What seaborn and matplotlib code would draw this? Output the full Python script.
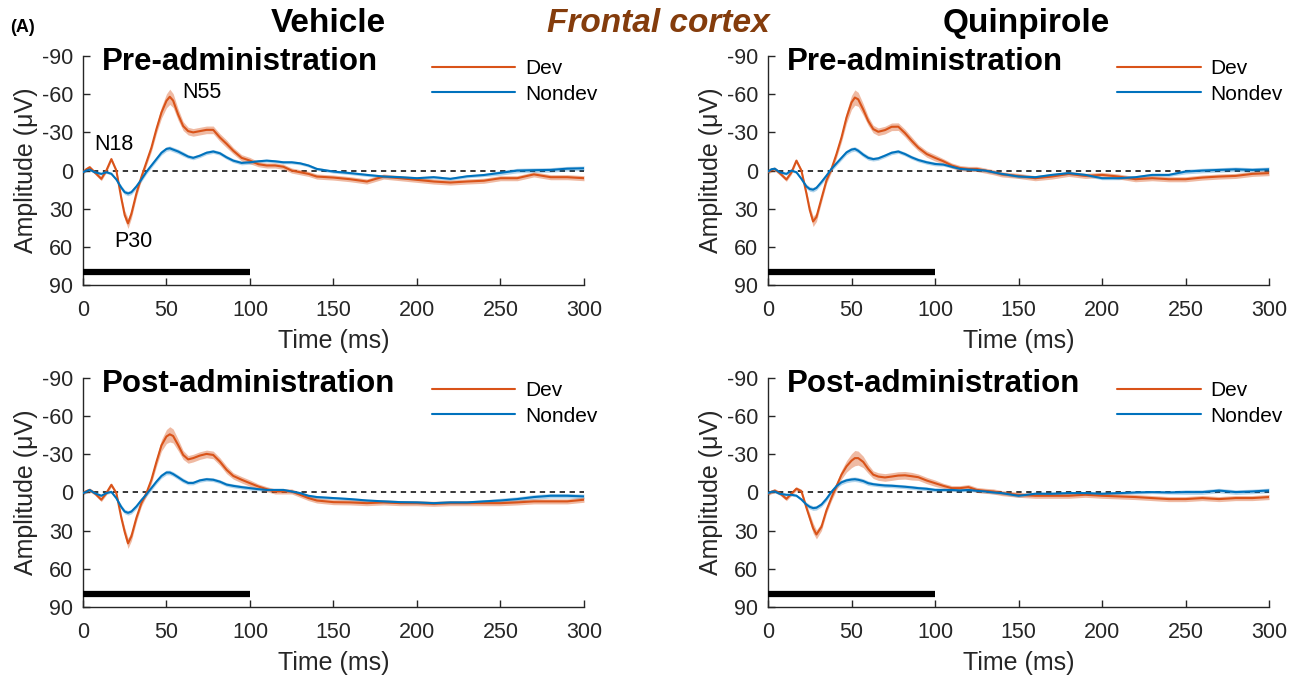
import matplotlib
matplotlib.use("Agg")
import matplotlib.pyplot as plt
import seaborn as sns
import pandas as pd

# time points (ms)
time_ms = [0, 2, 4, 7, 11, 14, 17, 20, 23, 25, 27, 29, 32, 35, 38, 41, 44, 47, 50, 52,
           54, 57, 60, 63, 66, 70, 74, 78, 82, 86, 90, 95, 100, 105, 110, 115, 120, 125, 130, 135,
           140, 150, 160, 170, 180, 190, 200, 210, 220, 230, 240, 250, 260, 270, 280, 290, 300]

# amplitudes (uV)
veh_pre_dev = [1.3, -1, -2.6, 1.3, 6.5, 0, -9, 0, 22, 35, 41.5, 34, 18, 5, -6.5, -18, -32.6, -45.6, -54.8, -58,
               -55, -44, -35, -31, -30, -31, -32, -32, -26, -21, -15.6, -10, -7.8, -5, -4, -4, -3, 0, 1.3, 2.6,
               4.7, 5.5, 6.8, 8.6, 4.7, 6, 7.3, 8.6, 9.4, 8.6, 8, 6, 6, 3, 5.2, 5.2, 6]
veh_pre_nondev = [1.3, 0, -0.8, 1.3, 2.6, 1.3, 2.5, 7, 13.5, 17, 18, 17, 12.5, 7, 1, -4, -9, -14, -17, -17.5,
                  -16.5, -15, -13, -11, -10, -11.7, -14, -15, -13.6, -10.4, -7.8, -6, -6.5, -7.3, -7.8, -7.3, -6.5, -6.5, -5.7, -4,
                  -1.3, 0.8, 2, 3.4, 4.7, 5.2, 6, 5.2, 6.5, 4.5, 3.5, 1.8, 0, -0.3, -0.5, -1.5, -1.8]
quin_pre_dev = [1.3, -0.5, -1.3, 2, 7, 1.5, -7.8, 0, 18, 31, 40, 36.5, 22, 7.8, -1.3, -13, -26, -41.7, -53.5, -57.4,
                -56, -48, -39, -32.6, -30.5, -31.8, -34.4, -34.5, -29.5, -23.5, -18, -13, -10, -7.3, -4, -2, -1.3, -1.3, 0, 1.3,
                3, 4.2, 6, 4.7, 2.6, 4.2, 3.4, 4.7, 6.8, 6, 6.8, 6.8, 5.5, 4.7, 4.2, 2.6, 2]
quin_pre_nondev = [0.8, -1, -1.5, 1.3, 2.6, 0, 1.3, 6.5, 12.5, 14.5, 15, 13.6, 9, 4, -1.3, -5.7, -10, -14.3, -16.5, -17,
                   -15.6, -12.5, -10, -9, -9.6, -11.7, -14, -15, -13, -10.4, -8.3, -6.5, -5.2, -4.7, -3, -1.3, -0.8, -0.5, 0, 1.3,
                   2.6, 4.7, 5.2, 3.4, 2, 3.4, 6, 6, 5.2, 3.4, 3.4, 0.8, 0, -0.5, -1, -0.5, -1]
veh_post_dev = [0.5, -1, -2, 0.5, 5.7, 0.5, -6, 0.5, 20, 31, 40, 34.5, 20, 8.4, 0.5, -10, -24, -37, -44, -45.7,
                -44.4, -37.3, -29.5, -26, -27, -29, -30.3, -29.5, -24.3, -17.8, -13, -10, -7.3, -4.7, -2.6, -0.8, -0.8, -0.8, 1.8, 4.4,
                6.3, 7.6, 7.8, 8.4, 7.8, 8.4, 8.4, 8.9, 8.4, 8.4, 8.4, 8.4, 7.8, 7, 7, 7, 5.7]
veh_post_nondev = [0.5, -0.5, -2, 0.5, 2.6, 0.5, -0.5, 4.5, 11.5, 15, 16, 15, 11, 6, 1.5, -3.5, -8.5, -13, -15.7, -15.7,
                   -14.5, -12, -9.4, -7.5, -7.5, -9.5, -10.4, -10, -8.5, -6.2, -5.2, -4.2, -3.4, -2.6, -2, -2, -2, -0.8, 0.5, 2.6,
                   3.6, 4.4, 5.2, 6.3, 7, 7.6, 7.8, 8.4, 7.8, 7.8, 7, 6.3, 5.2, 3.6, 2.6, 2.6, 3.1]
quin_post_dev = [1, -0.5, -1.5, 0.5, 5, 1, -3, -1, 12, 20, 28, 33, 27, 14, 4, -5, -14, -20.5, -25, -27,
                 -27, -24, -18.5, -14, -12.5, -11.8, -12.5, -13.3, -13.5, -12.8, -12, -9.4, -7.3, -5.2, -3.4, -3.4, -4.2, -2, -1.3, -0.8,
                 0.5, 1.8, 2.6, 2.6, 2.6, 1.8, 2.6, 3.1, 3.6, 4.4, 5.2, 5.2, 4.4, 5.2, 4.4, 4.4, 3.6]
quin_post_nondev = [0.5, -0.5, -0.8, 1, 1.8, 1.8, 2.5, 5.5, 9.5, 11.3, 12.3, 12, 9.5, 5, -0.5, -5, -8, -9.5, -10.2, -10.4,
                    -10, -9, -7.3, -6.5, -6, -5.5, -5.3, -4.9, -4.5, -4, -3.4, -2.9, -2, -2, -2, -1.6, -2, -1.3, -0.8, 0,
                    0.5, 2.6, 1, 1, 0.5, 0.5, 1, 0.5, 0, -0.3, 0, -0.3, -0.3, -1.5, -0.3, -0.8, -1.6]

# SEM half-widths of the shaded bands
dev_sem = [1.5, 1.5, 1.5, 1.5, 1.5, 1.5, 1.5, 1.5, 2.5, 3.5, 4, 3.5, 3, 2.5, 2.5, 3, 3.5, 4.5, 5.5, 6,
           5.5, 4.5, 3.5, 3, 3, 3, 3, 3, 3, 3, 2.5, 2.5, 2.5, 2, 2, 2, 2, 2, 2, 2,
           2, 2, 2, 2, 2, 2, 2, 2, 2, 2, 2, 2, 2, 2, 2, 2, 2]
nondev_sem = [1, 1, 1, 1, 1, 1, 1, 1, 1.8, 1.8, 1.8, 1.8, 1.8, 1.8, 1.8, 1.8, 1.8, 1.8, 1.8, 1.8,
              1.8, 1.8, 1.8, 1.5, 1.5, 1.5, 1.5, 1.5, 1.5, 1.5, 1.5, 1.5, 1.5, 1.2, 1.2, 1.2, 1.2, 1.2, 1.2, 1.2,
              1.2, 1.2, 1.2, 1.2, 1.2, 1.2, 1.2, 1.2, 1.2, 1.2, 1.2, 1.8, 1.8, 1.8, 1.8, 1.8, 1.8]

panels = [
    ("Pre-administration", veh_pre_dev, veh_pre_nondev),
    ("Pre-administration", quin_pre_dev, quin_pre_nondev),
    ("Post-administration", veh_post_dev, veh_post_nondev),
    ("Post-administration", quin_post_dev, quin_post_nondev),
]

DEV_C = "#D95319"
NONDEV_C = "#0072BD"
AX_C = "#262626"

sns.set_theme(style="ticks")
plt.rcParams["font.family"] = ["Liberation Sans", "DejaVu Sans"]
plt.rcParams["axes.unicode_minus"] = False

fig = plt.figure(figsize=(12.96, 6.82), dpi=100)
lefts = [0.064, 0.5926, 0.064, 0.5926]
bottoms = [0.582, 0.582, 0.110, 0.110]
W, H = 0.3866, 0.3358

for i, (sub, dev, nondev) in enumerate(panels):
    ax = fig.add_axes([lefts[i], bottoms[i], W, H])
    df = pd.DataFrame({
        "time": time_ms * 2,
        "amp": dev + nondev,
        "stim": ["Dev"] * len(time_ms) + ["Nondev"] * len(time_ms),
    })
    ax.axhline(0, color="black", lw=1.1, ls=(0, (3.5, 3)), zorder=1)
    ax.fill_between(time_ms, [v - s for v, s in zip(nondev, nondev_sem)],
                    [v + s for v, s in zip(nondev, nondev_sem)], color=NONDEV_C, alpha=0.3, lw=0, zorder=2)
    ax.fill_between(time_ms, [v - s for v, s in zip(dev, dev_sem)],
                    [v + s for v, s in zip(dev, dev_sem)], color=DEV_C, alpha=0.4, lw=0, zorder=2)
    sns.lineplot(data=df, x="time", y="amp", hue="stim", hue_order=["Dev", "Nondev"],
                 palette={"Dev": DEV_C, "Nondev": NONDEV_C}, errorbar=None, lw=1.5, ax=ax, zorder=3)
    ax.plot([0, 100], [80, 80], color="black", lw=4.5, solid_capstyle="butt", zorder=4)

    ax.set_xlim(0, 300)
    ax.set_ylim(90, -90)
    ax.set_xticks([0, 50, 100, 150, 200, 250, 300])
    ax.set_yticks([-90, -60, -30, 0, 30, 60, 90])
    ax.set_xlabel("Time (ms)", fontsize=18, color=AX_C, labelpad=6)
    ax.set_ylabel("Amplitude (μV)", fontsize=18, color=AX_C, labelpad=3)
    ax.tick_params(direction="in", length=5, width=1, colors=AX_C, labelsize=15.5)
    ax.tick_params(axis="x", pad=10.5)
    ax.tick_params(axis="y", pad=7)
    for s in ["top", "right"]:
        ax.spines[s].set_visible(False)
    for s in ["left", "bottom"]:
        ax.spines[s].set_color(AX_C)
        ax.spines[s].set_linewidth(1)

    ax.text(0.038, 0.972, sub, transform=ax.transAxes, fontsize=22.5, fontweight="bold",
            ha="left", va="center", color="black")
    leg = ax.legend(loc="upper left", bbox_to_anchor=(0.697, 0.985), frameon=False,
                    fontsize=15, handlelength=4.0, handletextpad=0.45, labelspacing=0.3,
                    borderpad=0, borderaxespad=0)
    for txt in leg.get_texts():
        txt.set_color("black")
    if i == 0:
        ax.text(18.6, -20.8, "N18", fontsize=15.5, ha="center", va="center", color="black")
        ax.text(71, -61, "N55", fontsize=15.5, ha="center", va="center", color="black")
        ax.text(30, 56, "P30", fontsize=15.5, ha="center", va="center", color="black")

fig.text(0.008, 0.959, "(A)", fontsize=13, fontweight="bold", ha="left", va="center", color="black")
fig.text(0.253, 0.966, "Vehicle", fontsize=24, fontweight="bold", ha="center", va="center", color="black")
fig.text(0.508, 0.966, "Frontal cortex", fontsize=24, fontweight="bold", fontstyle="italic",
         color="#843C0C", ha="center", va="center")
fig.text(0.792, 0.966, "Quinpirole", fontsize=24, fontweight="bold", ha="center", va="center", color="black")

fig.savefig("out.png", dpi=100)
